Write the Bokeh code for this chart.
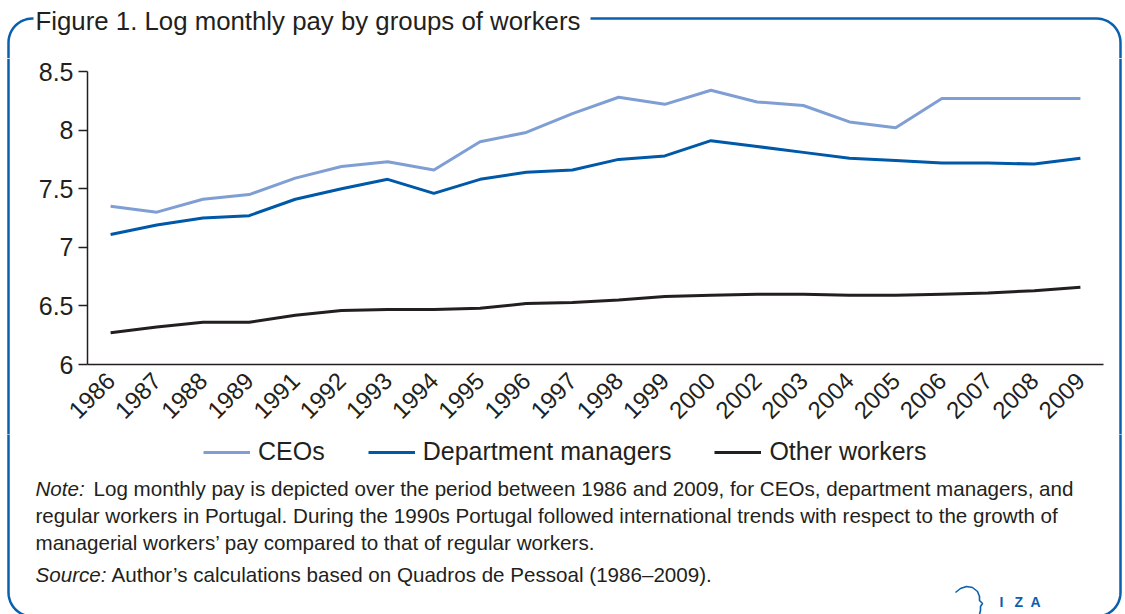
import math
from bokeh.plotting import figure
from bokeh.layouts import column, row
from bokeh.models import (FactorRange, Range1d, FixedTicker, Label, Legend,
                          LegendItem, PolyAnnotation, Span)
from bokeh.embed import file_html
from bokeh.resources import INLINE

# ---------------- data ----------------
years = ["1986", "1987", "1988", "1989", "1991", "1992", "1993", "1994",
         "1995", "1996", "1997", "1998", "1999", "2000", "2002", "2003",
         "2004", "2005", "2006", "2007", "2008", "2009"]
ceos = [7.35, 7.30, 7.41, 7.45, 7.59, 7.69, 7.73, 7.66, 7.90, 7.98, 8.14,
        8.28, 8.22, 8.34, 8.24, 8.21, 8.07, 8.02, 8.27, 8.27, 8.27, 8.27]
dept_managers = [7.11, 7.19, 7.25, 7.27, 7.41, 7.50, 7.58, 7.46, 7.58, 7.64,
                 7.66, 7.75, 7.78, 7.91, 7.86, 7.81, 7.76, 7.74, 7.72, 7.72,
                 7.71, 7.76]
other_workers = [6.27, 6.32, 6.36, 6.36, 6.42, 6.46, 6.47, 6.47, 6.48, 6.52,
                 6.53, 6.55, 6.58, 6.59, 6.60, 6.60, 6.59, 6.59, 6.60, 6.61,
                 6.63, 6.66]
y_ticks = [6, 6.5, 7, 7.5, 8, 8.5]
y_tick_labels = ["6", "6.5", "7", "7.5", "8", "8.5"]
series_names = ["CEOs", "Department managers", "Other workers"]

title_text = "Figure 1. Log monthly pay by groups of workers"
note_label = "Note:"
note_lines = [
    "Log monthly pay is depicted over the period between 1986 and 2009, for CEOs, department managers, and",
    "regular workers in Portugal. During the 1990s Portugal followed international trends with respect to the growth of",
    "managerial workers\u2019 pay compared to that of regular workers.",
]
source_label = "Source:"
source_text = "Author\u2019s calculations based on Quadros de Pessoal (1986\u20132009)."
logo_letters = ["I", "Z", "A"]

# ---------------- style ----------------
FONT = "Liberation Sans, Arial, sans-serif"
TXT = "#231f20"
C_CEO = "#7f9fd4"
C_DEPT = "#0058a8"
C_OTHER = "#231f20"
C_FRAME = "#0a60ad"
FRAME_W = 2.5

W, H = 1125, 614
TOP_H = 58          # title strip
MID_H = 376         # chart strip
BOT_H = H - TOP_H - MID_H
LS_W, RS_W = 25, 15
CH_W = W - LS_W - RS_W
FL, FR, FT, FB = 87, 1103, 71, 364   # chart frame edges (page pixels)

BX_L, BX_R, BX_T, BX_B, RAD = 8, 1120, 18, 616, 24


def no_align(f):
    try:
        f.frame_align = False
    except Exception:
        pass


def deco_fig(w, h, x0, x1, y0, y1):
    f = figure(width=w, height=h, x_range=Range1d(x0, x1),
               y_range=Range1d(y1, y0), output_backend="svg",
               toolbar_location=None, title=None, x_axis_type=None,
               y_axis_type=None, min_border=0, tools="")
    f.outline_line_color = None
    f.background_fill_color = "white"
    f.border_fill_color = "white"
    no_align(f)
    return f


def arc(cx, cy, r, a0, a1, n=12):
    return [(cx + r * math.cos(math.radians(a0 + (a1 - a0) * k / n)),
             cy + r * math.sin(math.radians(a0 + (a1 - a0) * k / n)))
            for k in range(n + 1)]


def stroke(f, pts, color=C_FRAME, width=FRAME_W):
    full = pts + pts[::-1]
    f.add_layout(PolyAnnotation(xs=[a for a, b in full],
                                ys=[b for a, b in full],
                                line_color=color, line_width=width,
                                line_alpha=1.0, fill_alpha=0))


def txt(f, x, y, s, italic=False, size="20.6px", color=TXT, bold=False):
    style = "italic" if italic else ("bold" if bold else "normal")
    f.add_layout(Label(x=x, y=y, text=s, text_font=FONT,
                       text_font_style=style, text_font_size=size,
                       text_color=color, text_baseline="middle"))


# ---------------- top strip: title + top of the frame ----------------
top = deco_fig(W, TOP_H, 0, W, 0, TOP_H)
stroke(top, [(BX_L, TOP_H + 2)] + arc(BX_L + RAD, BX_T + RAD, RAD, 180, 270)
       + [(33, BX_T)])
stroke(top, [(590, BX_T)] + arc(BX_R - RAD, BX_T + RAD, RAD, -90, 0)
       + [(BX_R, TOP_H + 2)])
txt(top, 35, 20, title_text, size="25.8px")

# ---------------- side strips ----------------
lstrip = deco_fig(LS_W, MID_H, 0, LS_W, TOP_H, TOP_H + MID_H)
lstrip.add_layout(Span(location=BX_L, dimension="height",
                       line_color=C_FRAME, line_width=FRAME_W))
rstrip = deco_fig(RS_W, MID_H, W - RS_W, W, TOP_H, TOP_H + MID_H)
rstrip.add_layout(Span(location=BX_R, dimension="height",
                       line_color=C_FRAME, line_width=FRAME_W))

# ---------------- chart ----------------
p = figure(width=CH_W, height=MID_H,
           x_range=FactorRange(*years, range_padding=0),
           y_range=Range1d(6, 8.5), output_backend="svg",
           toolbar_location=None, title=None, tools="",
           min_border_left=FL - LS_W, min_border_right=(LS_W + CH_W) - FR,
           min_border_top=FT - TOP_H, min_border_bottom=(TOP_H + MID_H) - FB)
p.outline_line_color = None
p.background_fill_color = "white"
p.border_fill_color = "white"
p.xgrid.visible = False
p.ygrid.visible = False
no_align(p)

r_ceo = p.line(years, ceos, line_color=C_CEO, line_width=3)
r_dept = p.line(years, dept_managers, line_color=C_DEPT, line_width=3)
r_oth = p.line(years, other_workers, line_color=C_OTHER, line_width=3)

xa = p.xaxis[0]
xa.axis_line_color = TXT
xa.axis_line_width = 1.5
xa.major_tick_line_color = None
xa.minor_tick_line_color = None
xa.major_label_orientation = math.pi / 4
xa.major_label_text_font = FONT
xa.major_label_text_font_size = "24px"
xa.major_label_text_color = TXT
xa.major_label_standoff = 6

ya = p.yaxis[0]
ya.ticker = FixedTicker(ticks=y_ticks)
ya.major_label_overrides = {t: l for t, l in zip(y_ticks, y_tick_labels)}
ya.axis_line_color = TXT
ya.axis_line_width = 1.5
ya.major_tick_line_color = TXT
ya.major_tick_line_width = 1.3
ya.major_tick_in = 0
ya.major_tick_out = 9
ya.minor_tick_line_color = None
ya.major_label_text_font = FONT
ya.major_label_text_font_size = "25px"
ya.major_label_text_color = TXT
ya.major_label_standoff = 5

# ---------------- bottom strip: legend, note, source, logo ----------------
Y0 = TOP_H + MID_H
bot = deco_fig(W, BOT_H, 0, W, Y0, H)
stroke(bot, [(BX_L, Y0 - 2)] + arc(BX_L + RAD, BX_B - RAD, RAD, 180, 90)
       + arc(BX_R - RAD, BX_B - RAD, RAD, 90, 0) + [(BX_R, Y0 - 2)])

# legend proxies: same series, outside this strip's visible range
idx = list(range(len(years)))
lg_ceo = bot.line(idx, ceos, line_color=C_CEO, line_width=3)
lg_dept = bot.line(idx, dept_managers, line_color=C_DEPT, line_width=3)
lg_oth = bot.line(idx, other_workers, line_color=C_OTHER, line_width=3)
legend = Legend(items=[LegendItem(label=series_names[0], renderers=[lg_ceo]),
                       LegendItem(label=series_names[1], renderers=[lg_dept]),
                       LegendItem(label=series_names[2], renderers=[lg_oth])],
                orientation="horizontal", location=(203, H - 466),
                glyph_width=47, glyph_height=28, label_height=28,
                label_standoff=8, spacing=43, padding=0, margin=0,
                border_line_color=None, background_fill_alpha=0,
                label_text_font=FONT, label_text_font_size="25px",
                label_text_color=TXT)
bot.add_layout(legend, "center")

txt(bot, 35, 488, note_label, italic=True)
txt(bot, 93, 488, note_lines[0])
txt(bot, 35, 515, note_lines[1])
txt(bot, 35, 542, note_lines[2])
txt(bot, 35, 574, source_label, italic=True)
txt(bot, 111, 574, source_text)

# IZA logo
stroke(bot, [(955, 592), (960, 588), (966, 586), (972, 587), (977, 591),
             (979, 596), (979, 600), (982, 603), (980, 606), (980, 610),
             (979, 614)], width=1.6)
for ch, X in zip(logo_letters, [999, 1014, 1030]):
    txt(bot, X, 601, ch, size="14px", color=C_FRAME, bold=True)

layout = column(top, row(lstrip, p, rstrip), bot)
open("out.html", "w").write(file_html(layout, INLINE))
